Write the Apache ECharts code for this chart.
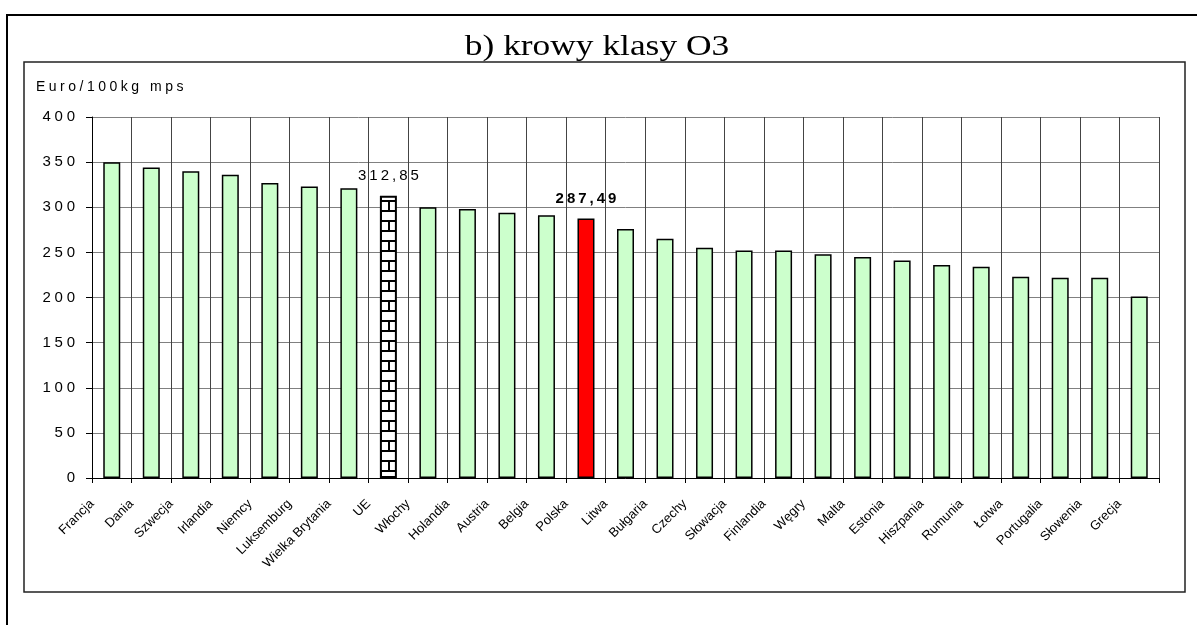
<!DOCTYPE html>
<html>
<head>
<meta charset="utf-8">
<script src="https://cdn.jsdelivr.net/npm/echarts@6/dist/echarts.min.js"></script>
<style>html,body{margin:0;padding:0;background:#fff;}#c{width:1197px;height:625px;}</style>
</head>
<body>
<div id="c"></div>
<script>
const categories = ['Francja','Dania','Szwecja','Irlandia','Niemcy','Luksemburg','Wielka Brytania','UE','Włochy','Holandia','Austria','Belgia','Polska','Litwa','Bułgaria','Czechy','Słowacja','Finlandia','Węgry','Malta','Estonia','Hiszpania','Rumunia','Łotwa','Portugalia','Słowenia','Grecja'];
const values = [350, 344, 340, 336, 327, 323, 321, 312.85, 300, 298, 294, 291, 287.49, 276, 265, 255, 252, 252, 248, 245, 241, 236, 234, 223, 222, 222, 201];
const yTicks = { min: 0, max: 400, interval: 50 };
const titleText = 'b) krowy klasy O3';
const unitText = 'Euro/100kg mps';
const euName = 'UE';
const plName = 'Polska';

const spaced = (s, sp) => String(s).split('').join(sp || '\u2009');
const fmt = v => v.toFixed(2).replace('.', ',');

const chart = echarts.init(document.getElementById('c'), null, { renderer: 'canvas' });

function brickPattern(offset) {
  const w = 17, h = 20;
  const cv = document.createElement('canvas');
  cv.width = w; cv.height = h;
  const ctx = cv.getContext('2d');
  ctx.fillStyle = '#fff'; ctx.fillRect(0, 0, w, h);
  ctx.fillStyle = '#000';
  ctx.fillRect(0, 0, w, 2);
  ctx.fillRect(0, 10, w, 2);
  const a = ((offset % w) + w) % w;
  const c = (a + 8) % w;
  ctx.fillRect(c, 2, 2, 8);
  ctx.fillRect(a, 12, 2, 8);
  return cv;
}

function buildData(pattern) {
  return values.map((v, i) => {
    const name = categories[i];
    if (name === euName) {
      return {
        value: v,
        itemStyle: { color: pattern ? { image: pattern, repeat: 'repeat' } : '#fff', borderColor: '#000', borderWidth: 2 },
        label: { show: true, position: 'top', distance: 12, formatter: p => spaced(fmt(p.value)), fontSize: 15, color: '#000', fontFamily: 'Liberation Sans' }
      };
    }
    if (name === plName) {
      return {
        value: v,
        itemStyle: { color: '#FF0000', borderColor: '#000', borderWidth: 1.5 },
        label: { show: true, position: 'top', distance: 12, formatter: p => spaced(fmt(p.value)), fontSize: 15, fontWeight: 'bold', color: '#000', fontFamily: 'Liberation Sans' }
      };
    }
    return v;
  });
}

const option = {
  animation: false,
  backgroundColor: '#fff',
  graphic: [
    { type: 'rect', shape: { x: 7, y: 15, width: 1300, height: 700 }, style: { fill: 'none', stroke: '#000', lineWidth: 2 }, silent: true },
    { type: 'rect', shape: { x: 24, y: 62, width: 1161, height: 530 }, style: { fill: 'none', stroke: '#222', lineWidth: 1.5 }, silent: true },
    { type: 'text', x: 597, y: 47, scaleX: 1.22, style: { text: titleText, x: 0, y: 0, align: 'center', verticalAlign: 'middle', fontSize: 29, fontFamily: 'Liberation Serif', fill: '#000' } },
    { type: 'text', left: 36, top: 80, style: { text: spaced(unitText, '\u2005'), fontSize: 14, fontFamily: 'Liberation Sans', fill: '#000' } }
  ],
  grid: { left: 92, right: 38, top: 117, bottom: 147, containLabel: false },
  xAxis: {
    type: 'category',
    data: categories,
    axisLine: { show: true, lineStyle: { color: '#000', width: 1 } },
    axisTick: { show: true, length: 5, lineStyle: { color: '#000' } },
    splitLine: { show: true, lineStyle: { color: '#444', width: 1 } },
    axisLabel: { interval: 0, rotate: 45, fontSize: 13, color: '#000', fontFamily: 'Liberation Sans', margin: 4, padding: [0, 28, 0, 0] }
  },
  yAxis: {
    type: 'value', min: yTicks.min, max: yTicks.max, interval: yTicks.interval,
    axisLine: { show: true, lineStyle: { color: '#000', width: 1 } },
    axisTick: { show: true, length: 6, lineStyle: { color: '#000' } },
    splitLine: { show: true, lineStyle: { color: '#808080', width: 1 } },
    axisLabel: { fontSize: 15, color: '#000', fontFamily: 'Liberation Sans', margin: 17, formatter: v => spaced(v, '\u2005') }
  },
  series: [{
    type: 'bar',
    barWidth: 17,
    itemStyle: { color: '#CCFFCC', borderColor: '#000', borderWidth: 1.5 },
    data: buildData(null)
  }]
};
chart.setOption(option);
const idx = categories.indexOf(euName);
const px = chart.convertToPixel({ xAxisIndex: 0 }, idx);
const left = Math.round(px - 8.5);
chart.setOption({ series: [{ data: buildData(brickPattern(left)) }] });
</script>
</body>
</html>
